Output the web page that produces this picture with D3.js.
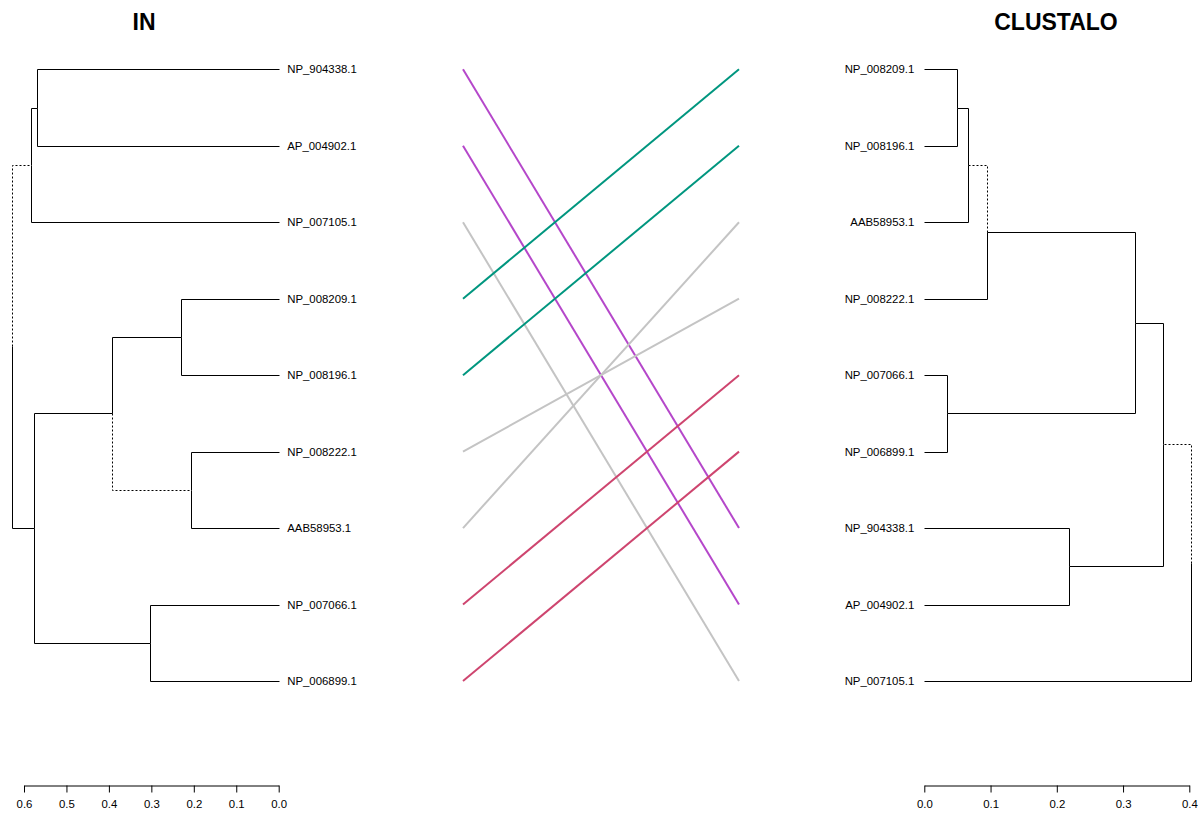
<!DOCTYPE html>
<html>
<head>
<meta charset="utf-8">
<script src="https://cdn.jsdelivr.net/npm/d3@7"></script>
<style>
  html, body { margin: 0; padding: 0; background: #fff; }
  svg { display: block; font-family: "Liberation Sans", Arial, sans-serif; }
</style>
</head>
<body>
<svg id="chart" width="1200" height="814"></svg>
<script>
// ---------------- data ----------------
const titles = ["IN", "CLUSTALO"];

// nested merges: [childA, childB, height]
const leftTree = [
  [["NP_904338.1", "AP_004902.1", 0.570], "NP_007105.1", 0.5835],
  [[["NP_008209.1", "NP_008196.1", 0.229], ["NP_008222.1", "AAB58953.1", 0.206], 0.393],
   ["NP_007066.1", "NP_006899.1", 0.303], 0.576],
  0.628
];
const rightTree = [
  [
    [
      [
        [["NP_008209.1", "NP_008196.1", 0.049], "AAB58953.1", 0.0655],
        "NP_008222.1", 0.094
      ],
      ["NP_007066.1", "NP_006899.1", 0.034], 0.3175
    ],
    ["NP_904338.1", "AP_004902.1", 0.218], 0.360
  ],
  "NP_007105.1", 0.402
];

// edges (identified by the leaves of the cluster below them) drawn dotted
const leftDistinct = [
  ["NP_904338.1", "AP_004902.1", "NP_007105.1"],
  ["NP_008222.1", "AAB58953.1"]
];
const rightDistinct = [
  ["NP_008209.1", "NP_008196.1", "AAB58953.1"],
  ["NP_008209.1", "NP_008196.1", "AAB58953.1", "NP_008222.1", "NP_007066.1", "NP_006899.1", "NP_904338.1", "AP_004902.1"]
];

const leftTicks = [0.6, 0.5, 0.4, 0.3, 0.2, 0.1, 0.0];
const rightTicks = [0.0, 0.1, 0.2, 0.3, 0.4];

// connecting line colour per label
const connectLabels = ["NP_904338.1", "AP_004902.1", "NP_007105.1", "NP_008209.1", "NP_008196.1",
                       "NP_008222.1", "AAB58953.1", "NP_007066.1", "NP_006899.1"];
const connectColors = ["#B547CA", "#B547CA", "#C4C4C4", "#00967F", "#00967F",
                       "#C4C4C4", "#C4C4C4", "#CE456F", "#CE456F"];

// ---------------- helpers ----------------
function toNode(a) {
  if (typeof a === "string") return { name: a, height: 0 };
  return { height: a[2], children: [toNode(a[0]), toNode(a[1])] };
}
const svg = d3.select("#chart");
const yTop = 69.3, yBot = 681;

function drawTree(tree, xScale, distinct, side) {
  const root = d3.hierarchy(toNode(tree));
  const leaves = root.leaves();
  const yScale = d3.scalePoint().domain(leaves.map(d => d.data.name)).range([yTop, yBot]);
  root.eachAfter(n => {
    if (!n.children) n.y = yScale(n.data.name);
    else n.y = (n.children[0].y + n.children[n.children.length - 1].y) / 2;
    n.x = xScale(n.data.height);
  });
  const distinctKeys = distinct.map(a => a.slice().sort().join("|"));
  const g = svg.append("g");
  root.descendants().filter(n => n.parent).forEach(n => {
    const key = n.leaves().map(l => l.data.name).sort().join("|");
    const dotted = distinctKeys.includes(key);
    const px = Math.round(n.parent.x) + 0.5, py = Math.round(n.parent.y) + 0.5;
    const cx = Math.round(n.x) + 0.5, cy = Math.round(n.y) + 0.5;
    g.append("path")
      .attr("d", `M${px},${py}V${cy}H${cx}`)
      .attr("fill", "none")
      .attr("stroke", "#000")
      .attr("stroke-width", 1)
      .attr("stroke-dasharray", dotted ? "2,2" : null);
  });
  g.selectAll("text.leaf").data(leaves).join("text")
    .attr("class", "leaf")
    .attr("x", d => side === "left" ? d.x + 8.5 : d.x - 10)
    .attr("y", d => d.y)
    .attr("dy", "0.35em")
    .attr("text-anchor", side === "left" ? "start" : "end")
    .attr("font-size", "11.4px")
    .attr("fill", "#000")
    .text(d => d.data.name);
  return yScale;
}

function drawAxis(xScale, ticks) {
  const ax = d3.axisBottom(xScale)
    .tickValues(ticks)
    .tickFormat(d3.format(".1f"))
    .tickSize(7)
    .tickSizeOuter(0)
    .tickPadding(7.5);
  const g = svg.append("g").attr("transform", "translate(0,785.5)").call(ax);
  g.selectAll("path, line").attr("stroke", "#000");
  g.selectAll("text").attr("font-size", "11.4px").attr("fill", "#000")
    .attr("font-family", "Liberation Sans, Arial, sans-serif");
}

// ---------------- scales ----------------
const xLeft = d3.scaleLinear().domain([0.6, 0]).range([24, 278.7]);
const xRight = d3.scaleLinear().domain([0, 0.4]).range([924.3, 1189.3]);

// connecting lines first
const yL = d3.scalePoint().domain(d3.hierarchy(toNode(leftTree)).leaves().map(d => d.data.name)).range([yTop, yBot]);
const yR = d3.scalePoint().domain(d3.hierarchy(toNode(rightTree)).leaves().map(d => d.data.name)).range([yTop, yBot]);
svg.append("g").selectAll("line").data(connectLabels).join("line")
  .attr("x1", 463).attr("x2", 739)
  .attr("y1", d => yL(d)).attr("y2", d => yR(d))
  .attr("stroke", (d, i) => connectColors[i])
  .attr("stroke-width", 2);

drawTree(leftTree, xLeft, leftDistinct, "left");
drawTree(rightTree, xRight, rightDistinct, "right");
drawAxis(xLeft, leftTicks);
drawAxis(xRight, rightTicks);

// titles
svg.append("text").attr("x", 144).attr("y", 30).attr("text-anchor", "middle")
  .attr("font-size", "23px").attr("font-weight", "bold").text(titles[0]);
svg.append("text").attr("x", 1056).attr("y", 30).attr("text-anchor", "middle")
  .attr("font-size", "23px").attr("font-weight", "bold").text(titles[1]);
</script>
</body>
</html>
